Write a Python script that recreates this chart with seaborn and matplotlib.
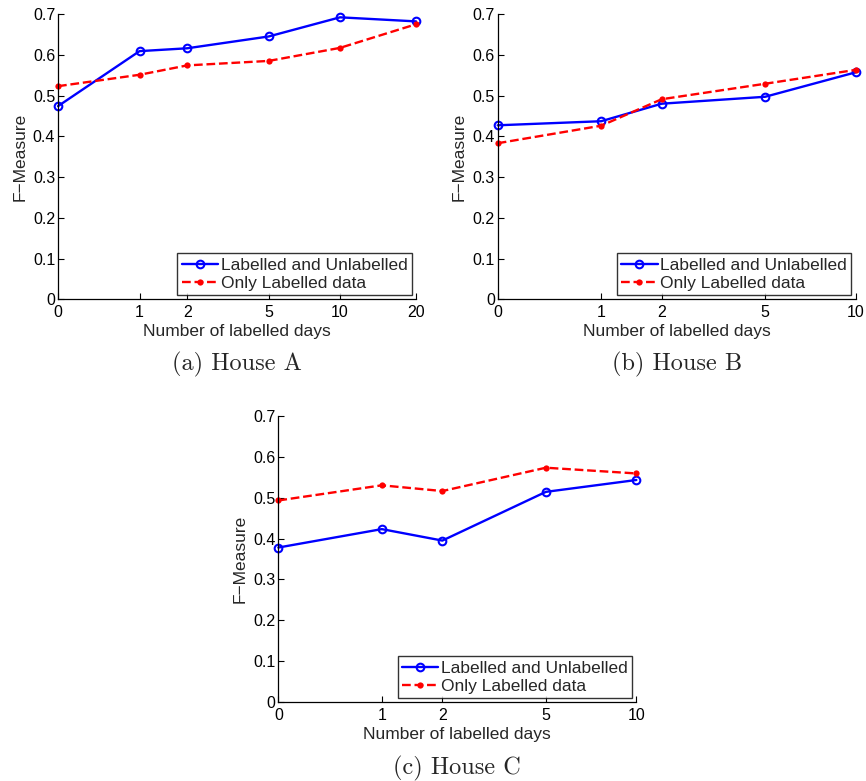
import matplotlib
matplotlib.use("Agg")
import matplotlib.pyplot as plt
import seaborn as sns
import numpy as np

# data
days_a = [0, 1, 2, 5, 10, 20]
both_a = [0.474, 0.609, 0.616, 0.645, 0.692, 0.682]
only_a = [0.523, 0.551, 0.574, 0.585, 0.617, 0.675]

days_b = [0, 1, 2, 5, 10]
both_b = [0.427, 0.437, 0.480, 0.497, 0.557]
only_b = [0.383, 0.426, 0.491, 0.529, 0.563]

days_c = [0, 1, 2, 5, 10]
both_c = [0.378, 0.423, 0.395, 0.514, 0.543]
only_c = [0.493, 0.530, 0.516, 0.573, 0.559]

y_ticks = [0, 0.1, 0.2, 0.3, 0.4, 0.5, 0.6, 0.7]
captions = ["(a) House A", "(b) House B", "(c) House C"]

sns.set_style("ticks")
plt.rcParams["font.family"] = ["Liberation Sans", "DejaVu Sans"]
plt.rcParams["xtick.direction"] = "in"
plt.rcParams["ytick.direction"] = "in"


def plot_house(ax, days, both, only, caption):
    sns.lineplot(x=days, y=both, ax=ax, color="blue", lw=1.7, marker="o",
                 markersize=5.5, markerfacecolor="none", markeredgecolor="blue",
                 markeredgewidth=1.5, label="Labelled and Unlabelled", clip_on=False)
    sns.lineplot(x=days, y=only, ax=ax, color="red", lw=1.7, linestyle="--",
                 dashes=(4.5, 3), marker="o", markersize=4.5, markeredgewidth=0,
                 markerfacecolor="red", label="Only Labelled data", clip_on=False)
    ax.set_xscale("function", functions=(np.log1p, np.expm1))
    ax.set_xlim(0, days[-1])
    ax.set_ylim(0, 0.7)
    ax.set_xticks(days)
    ax.set_xticklabels([str(d) for d in days])
    ax.set_yticks(y_ticks)
    ax.set_yticklabels(["%g" % t for t in y_ticks])
    ax.minorticks_off()
    ax.tick_params(labelsize=11.5, length=4, width=0.8, colors="black", pad=2)
    ax.tick_params(axis="x", pad=4)
    for s in ["top", "right"]:
        ax.spines[s].set_visible(False)
    for s in ["left", "bottom"]:
        ax.spines[s].set_linewidth(0.9)
        ax.spines[s].set_color("black")
    ax.set_xlabel("Number of labelled days", fontsize=12.5, labelpad=3)
    ax.set_ylabel("F\u2212Measure", fontsize=12.5, labelpad=4)
    leg = ax.legend(loc="lower right", fontsize=12.5, frameon=True, fancybox=False,
                    edgecolor="black", handlelength=2.1, handletextpad=0.15,
                    borderpad=0.25, labelspacing=0.15, borderaxespad=0.25)
    leg.get_frame().set_linewidth(1.0)
    ax.text(0.5, -0.23, caption, transform=ax.transAxes, ha="center", va="center",
            fontsize=17.5, family="cmr10")


fig = plt.figure(figsize=(8.66, 7.81), dpi=100)
ax_a = fig.add_axes([0.0670, 0.6168, 0.4134, 0.3652])
ax_b = fig.add_axes([0.5747, 0.6168, 0.4134, 0.3652])
ax_c = fig.add_axes([0.3214, 0.1008, 0.4134, 0.3669])

plot_house(ax_a, days_a, both_a, only_a, captions[0])
plot_house(ax_b, days_b, both_b, only_b, captions[1])
plot_house(ax_c, days_c, both_c, only_c, captions[2])

fig.savefig("out.png", dpi=100)
